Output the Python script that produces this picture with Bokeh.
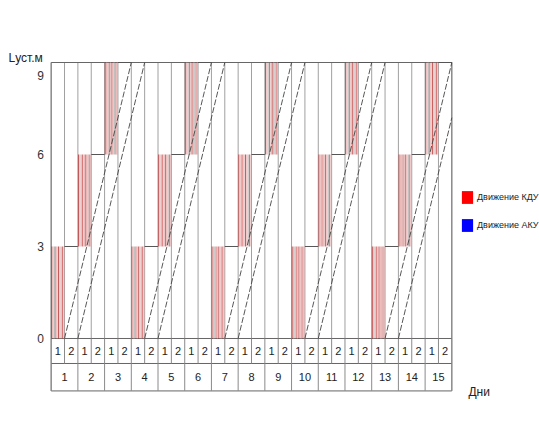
from bokeh.plotting import figure
from bokeh.models import Range1d, Legend, LegendItem
from bokeh.embed import file_html
from bokeh.resources import INLINE
from bokeh.core.properties import value

# ---------------- data ----------------
days = [str(d) for d in range(1, 16)]
shift_labels = ["1", "2"]
# КДУ level (m) at the start / end of shift 1 of each day
kdu_from = [0, 3, 6, 0, 3, 6, 0, 3, 6, 0, 3, 6, 0, 3, 6]
kdu_to = [3, 6, 9, 3, 6, 9, 3, 6, 9, 3, 6, 9, 3, 6, 9]
# АКУ movement lines: shift index where they start (0 m) and end (9 m)
aku_x0 = [1, 2, 7, 8, 13, 14, 19, 20, 25, 26]
aku_x1 = [6, 7, 12, 13, 18, 19, 24, 25, 30, 31]
aku_y0 = [0, 0, 0, 0, 0, 0, 0, 0, 0, 0]
aku_y1 = [9, 9, 9, 9, 9, 9, 9, 9, 9, 9]
y_ticks = [0, 3, 6, 9]

N_SHIFTS = 2 * len(days)
STROKES = 10
FONT = "Liberation Sans"
ROW1 = -0.815
ROW2 = -1.71
TXT = "#222222"
NAN = float("nan")

# frame covers the whole canvas; plot area = shifts 0..30, metres 0..9
p = figure(width=539, height=441, output_backend="svg", toolbar_location=None,
           x_range=Range1d(-3.794, 36.565), y_range=Range1d(-3.359, 11.022),
           x_axis_location=None, y_axis_location=None,
           min_border=0, min_border_left=0, min_border_right=0,
           min_border_top=0, min_border_bottom=0)
p.outline_line_color = None
p.background_fill_color = "white"
p.grid.grid_line_color = None

# ---- grid inside the plot ----
xs = list(range(N_SHIFTS + 1))
p.segment(x0=xs, y0=[0] * len(xs), x1=xs, y1=[9] * len(xs), line_color="#a0a0a0", line_width=1)
p.segment(x0=[0, N_SHIFTS], y0=[ROW2, ROW2], x1=[0, N_SHIFTS], y1=[9, 9],
          line_color="#777777", line_width=1)
p.segment(x0=[0, 0, 0, 0], y0=[9, 0, ROW1, ROW2], x1=[N_SHIFTS] * 4, y1=[9, 0, ROW1, ROW2],
          line_color="#666666", line_width=1)

# ---- y tick labels (top one sits lower, as in the original) ----
p.text(x=[-0.55] * len(y_ticks), y=y_ticks, text=[str(t) for t in y_ticks],
       y_offset=[0, 0, 0, 13],
       text_align="right", text_baseline="middle", text_font=value(FONT),
       text_font_size="12px", text_color="#333333")

# ---- table below ----
p.segment(x0=xs, y0=[0] * len(xs), x1=xs, y1=[ROW1] * len(xs), line_color="#8a8a8a", line_width=1)
dx = list(range(0, N_SHIFTS + 1, 2))
p.segment(x0=dx, y0=[ROW1] * len(dx), x1=dx, y1=[ROW2] * len(dx), line_color="#8a8a8a", line_width=1)
p.text(x=[i + 0.5 for i in range(N_SHIFTS)], y=[ROW1 / 2] * N_SHIFTS,
       text=[shift_labels[i % 2] for i in range(N_SHIFTS)],
       text_align="center", text_baseline="middle", text_font=value(FONT),
       text_font_size="11px", text_color=TXT)
p.text(x=[2 * i + 1 for i in range(len(days))], y=[(ROW1 + ROW2) / 2] * len(days), text=days,
       text_align="center", text_baseline="middle", text_font=value(FONT),
       text_font_size="11px", text_color=TXT)

# ---- КДУ movement (shift 1) ----
sx, sy0, sy1, scol = [], [], [], []
cols = ["#b52828", "#e49a9a", "#a9a2a2", "#cc4646", "#e0a6a6"]
for d in range(len(days)):
    s = 2 * d
    for i in range(STROKES):
        sx.append(s + (i + 0.5) / STROKES)
        sy0.append(kdu_from[d])
        sy1.append(kdu_to[d])
        scol.append(cols[i % len(cols)])
p.segment(x0=sx, y0=sy0, x1=sx, y1=sy1, line_color=scol, line_width=0.9, line_alpha=0.85)

# ---- КДУ standing level (shift 2) ----
p.segment(x0=[2 * d + 1 for d in range(len(days))], y0=kdu_to,
          x1=[2 * d + 2 for d in range(len(days))], y1=kdu_to,
          line_color="#555555", line_width=1)

# ---- АКУ lines (clipped at the last shift) ----
p.segment(x0=aku_x0, y0=aku_y0, x1=[min(a, N_SHIFTS) for a in aku_x1],
          y1=[y0 + (y1 - y0) * (min(b, N_SHIFTS) - a) / (b - a)
              for a, b, y0, y1 in zip(aku_x0, aku_x1, aku_y0, aku_y1)],
          line_color="#444444", line_width=0.9, line_dash="6 2")

# ---- legend ----
r1 = p.quad(left=[NAN], right=[NAN], top=[NAN], bottom=[NAN], fill_color="#ff0000", line_color=None)
r2 = p.quad(left=[NAN], right=[NAN], top=[NAN], bottom=[NAN], fill_color="#0000ff", line_color=None)
leg = Legend(items=[LegendItem(label="Движение КДУ", renderers=[r1]),
                    LegendItem(label="Движение АКУ", renderers=[r2])],
             location=(460, 208), glyph_width=14, glyph_height=16, spacing=12,
             padding=0, margin=0, border_line_color=None, background_fill_alpha=0,
             label_text_font=FONT, label_text_font_size="9px", label_standoff=3,
             label_height=16, label_text_color=TXT)
p.add_layout(leg)

# ---- axis titles ----
p.text(x=[-3.195], y=[9.163], text=["Lуст.м"], text_font=value(FONT), text_font_size="12px",
       text_baseline="middle", text_align="left", text_color=TXT)
p.text(x=[31.24], y=[-1.76], text=["Дни"], text_font=value(FONT), text_font_size="12px",
       text_baseline="middle", text_align="left", text_color=TXT)

open("out.html", "w").write(file_html(p, INLINE))
